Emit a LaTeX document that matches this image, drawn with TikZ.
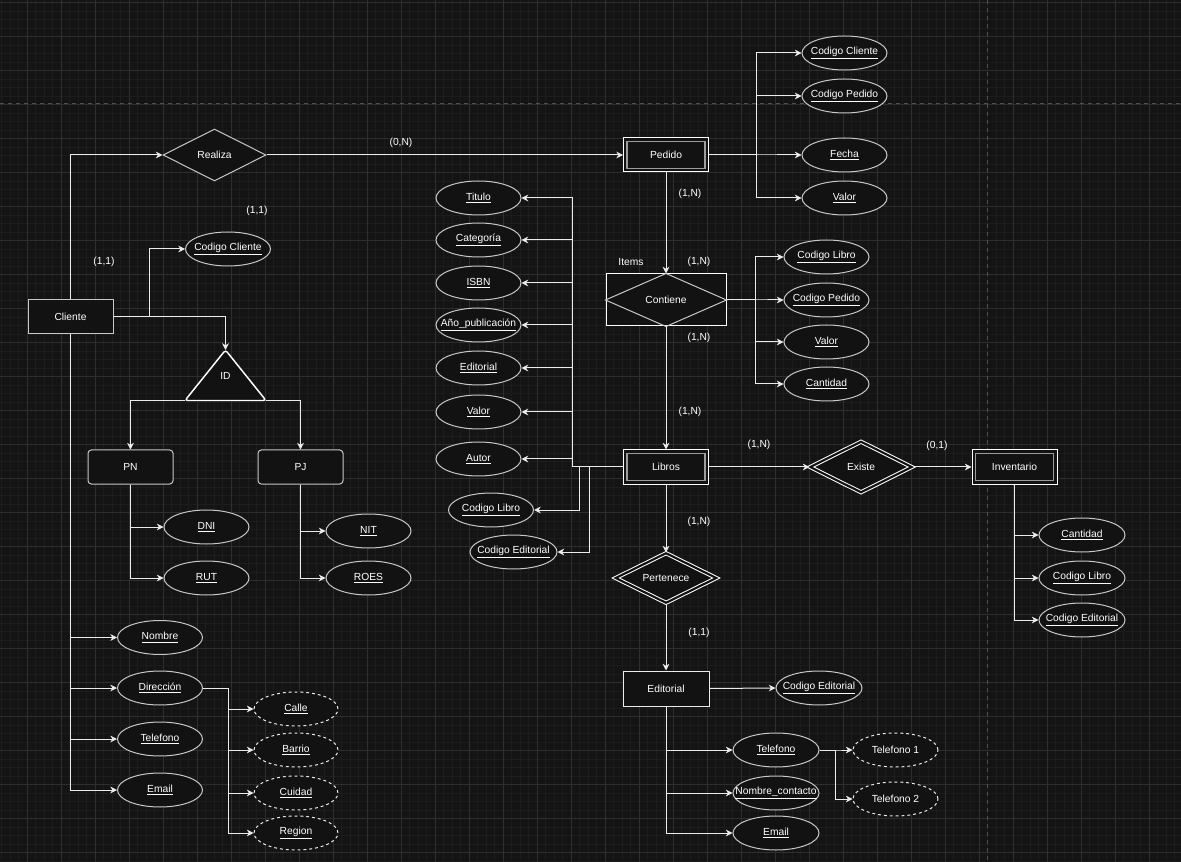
\documentclass[tikz,border=0pt]{standalone}
\usepackage{fontspec}
\setmainfont{Liberation Sans}
\usetikzlibrary{shapes.geometric,arrows.meta}
\definecolor{bgc}{HTML}{141414}
\definecolor{minorc}{HTML}{1C1C1C}
\definecolor{majorc}{HTML}{2E2E2E}
\definecolor{pagec}{HTML}{505050}
\definecolor{linec}{HTML}{EBEBEB}
\definecolor{bordc}{HTML}{C8C8C8}
\definecolor{innerc}{HTML}{9C9C9C}
\definecolor{fillc}{HTML}{121212}
\newcommand{\ulbl}[1]{\makebox[0pt]{\underline{#1}}}
\newcommand{\plbl}[1]{\makebox[0pt]{#1}}
\begin{document}
\begin{tikzpicture}[x=0.75pt,y=-0.75pt,
  font=\fontsize{7.7pt}{9pt}\selectfont,
  every node/.style={text=white},
  ent/.style={rectangle, draw=bordc, fill=fillc, line width=0.75pt, minimum width=85*0.75pt, minimum height=34*0.75pt, inner sep=0pt},
  went/.style={ent, draw=white},
  rent/.style={ent, rounded corners=2.5pt},
  attr/.style={ellipse, draw=bordc, fill=fillc, line width=0.75pt, minimum width=85*0.75pt, minimum height=34*0.75pt, inner sep=0pt},
  mattr/.style={attr, draw=linec, dash pattern=on 2.2pt off 2.2pt},
  rel/.style={diamond, draw=bordc, fill=fillc, line width=0.75pt, minimum width=103*0.75pt, minimum height=52*0.75pt, inner sep=0pt, aspect=2},
  dblrel/.style={rel, draw=white, double=fillc, double distance=1.6pt},
  lbl/.style={inner sep=0pt},
  conn/.style={draw=linec, line width=0.75pt, -{Stealth[length=5pt,width=5pt,inset=1.5pt]}}
]
\useasboundingbox (0,0) rectangle (1181,862);
% background grid
\fill[bgc] (0,0) rectangle (1181,862);
\foreach \i in {0,...,138} \draw[minorc, line width=0.75pt] ({1.5+8.5*\i},0) -- ++(0,862);
\foreach \i in {0,...,101} \draw[minorc, line width=0.75pt] (0,{2.7+8.5*\i}) -- ++(1181,0);
\foreach \i in {0,...,33} \draw[majorc, line width=0.75pt] ({27+34*\i},0) -- ++(0,862);
\foreach \i in {0,...,25} \draw[majorc, line width=0.75pt] (0,{2.7+34*\i}) -- ++(1181,0);
\draw[pagec, line width=0.75pt, dash pattern=on 3pt off 3pt] (0,104) -- (1181,104);
\draw[pagec, line width=0.75pt, dash pattern=on 3pt off 3pt] (987,0) -- (987,862);

% ---- Cliente side
\node[ent] (cliente) at (70.5,316.5) {Cliente};
\node[rel] (realiza) at (214.5,155) {Realiza};
\node[attr] (ccli) at (228,249) {\ulbl{Codigo Cliente}};
\coordinate (idtop) at (225.5,350);
\coordinate (idbl) at (185,400.5);
\coordinate (idbr) at (266,400.5);
\filldraw[fill=fillc, draw=white, line width=1.1pt, rounded corners=2pt] (idtop) -- (idbr) -- (idbl) -- cycle;
\node (id) at (225.5,376) {ID};
\node[rent] (pn) at (130.5,467) {PN};
\node[rent] (pj) at (300.5,467) {PJ};
\node[attr] (dni) at (206.5,527) {\ulbl{DNI}};
\node[attr] (rut) at (206.5,578) {\ulbl{RUT}};
\node[attr] (nit) at (368.5,531) {\ulbl{NIT}};
\node[attr] (roes) at (368.5,578) {\ulbl{ROES}};
\node[attr] (nombre) at (160,637.5) {\ulbl{Nombre}};
\node[attr] (direccion) at (160,688) {\ulbl{Dirección}};
\node[attr] (telefono) at (160,739) {\ulbl{Telefono}};
\node[attr] (email) at (160,790) {\ulbl{Email}};
\node[mattr, minimum width=84*0.75pt] (calle) at (296,709) {\ulbl{Calle}};
\node[mattr, minimum width=84*0.75pt] (barrio) at (296,750) {\ulbl{Barrio}};
\node[mattr, minimum width=84*0.75pt] (cuidad) at (296,793) {\ulbl{Cuidad}};
\node[mattr, minimum width=84*0.75pt] (region) at (296,833) {\ulbl{Region}};

% ---- Pedido
\node[went] (pedido) at (666,155) {Pedido};
\node[attr] (pcc) at (844.5,53) {\ulbl{Codigo Cliente}};
\node[attr] (pcp) at (844.5,96) {\ulbl{Codigo Pedido}};
\node[attr] (pfe) at (844.5,155) {\ulbl{Fecha}};
\node[attr] (pva) at (844.5,198) {\ulbl{Valor}};

% ---- Contiene
\node[ent, draw=white, minimum width=120*0.75pt, minimum height=52*0.75pt] (contiene) at (666,300) {Contiene};
\draw[bordc, line width=0.75pt] (contiene.north) -- (contiene.east) -- (contiene.south) -- (contiene.west) -- cycle;
\node[attr] (ccl) at (826.5,257) {\ulbl{Codigo Libro}};
\node[attr] (ccp) at (826.5,300) {\ulbl{Codigo Pedido}};
\node[attr] (cva) at (826.5,342) {\ulbl{Valor}};
\node[attr] (cca) at (826.5,384) {\ulbl{Cantidad}};

% ---- Libros
\node[went] (libros) at (666,467) {Libros};
\node[attr] (ltit) at (478.5,198) {\ulbl{Titulo}};
\node[attr] (lcat) at (478.5,240) {\ulbl{Categoría}};
\node[attr] (lisb) at (478.5,283) {\ulbl{ISBN}};
\node[attr] (lano) at (478.5,325) {\ulbl{Año\_publicación}};
\node[attr] (ledi) at (478.5,368) {\ulbl{Editorial}};
\node[attr] (lval) at (478.5,412) {\ulbl{Valor}};
\node[attr] (laut) at (478.5,459) {\ulbl{Autor}};
\node[attr] (lcl) at (491,510) {\ulbl{Codigo Libro}};
\node[attr, minimum width=87*0.75pt] (lce) at (513.5,552) {\ulbl{Codigo Editorial}};

% ---- Pertenece / Editorial
\node[dblrel, minimum width=101*0.75pt, minimum height=50*0.75pt] (pertenece) at (666,578) {Pertenece};
\node[ent, draw=linec, minimum width=86*0.75pt, minimum height=35*0.75pt] (editorial) at (666,688.5) {Editorial};
\node[attr, minimum width=86*0.75pt] (ece) at (819,688) {\ulbl{Codigo Editorial}};
\node[attr, minimum width=86*0.75pt] (etel) at (776,750) {\ulbl{Telefono}};
\node[attr, minimum width=86*0.75pt] (enom) at (776,793) {\ulbl{Nombre\_contacto}};
\node[attr, minimum width=86*0.75pt] (eema) at (776,833) {\ulbl{Email}};
\node[mattr] (tel1) at (895.5,750) {\plbl{Telefono 1}};
\node[mattr] (tel2) at (895.5,799) {\plbl{Telefono 2}};

% ---- Existe / Inventario
\node[dblrel, minimum width=102*0.75pt, minimum height=51*0.75pt] (existe) at (861,467) {Existe};
\node[went] (inventario) at (1014.5,467) {Inventario};
\node[attr, minimum width=86*0.75pt] (ica) at (1082,535) {\ulbl{Cantidad}};
\node[attr, minimum width=86*0.75pt] (icl) at (1082,578) {\ulbl{Codigo Libro}};
\node[attr, minimum width=86*0.75pt] (ice) at (1082,620) {\ulbl{Codigo Editorial}};

% inner borders of weak entities
\foreach \n in {pedido,libros,inventario}
  \draw[innerc, line width=1.1pt] ([shift={(4,4)}]\n.north west) rectangle ([shift={(-4,-4)}]\n.south east);

% ---- connectors
\draw[conn] (cliente.north) |- (realiza.west);
\draw[conn] (realiza.east) -- (pedido.west);
\draw[conn] (cliente.east) -- ++(36,0) |- (ccli.west);
\draw[conn] (cliente.east) -| (idtop);
\draw[conn] (idbl) -| (pn.north);
\draw[conn] (idbr) -| (pj.north);
\draw[conn] (pn.south) |- (dni.west);
\draw[conn] (pn.south) |- (rut.west);
\draw[conn] (pj.south) |- (nit.west);
\draw[conn] (pj.south) |- (roes.west);
\foreach \n in {nombre,direccion,telefono,email}
  \draw[conn] (cliente.south) |- (\n.west);
\foreach \n in {calle,barrio,cuidad,region}
  \draw[conn] (direccion.east) -- ++(25,0) |- (\n.west);
\foreach \n in {pcc,pcp,pfe,pva}
  \draw[conn] (pedido.east) -- ++(47,0) |- (\n.west);
\draw[conn] (pedido.south) -- (contiene.north);
\foreach \n in {ccl,ccp,cva,cca}
  \draw[conn] (contiene.east) -- ++(29,0) |- (\n.west);
\draw[conn] (contiene.south) -- (libros.north);
\foreach \n in {ltit,lcat,lisb,lano,ledi,lval,laut}
  \draw[conn] (libros.west) -- ++(-51,0) |- (\n.east);
\draw[conn] (libros.west) -- ++(-44,0) |- (lcl.east);
\draw[conn] (libros.west) -- ++(-34,0) |- (lce.east);
\draw[conn] (libros.south) -- (pertenece.north);
\draw[conn] (pertenece.south) -- (editorial.north);
\draw[conn] (editorial.east) -- (ece.west);
\foreach \n in {etel,enom,eema}
  \draw[conn] (editorial.south) |- (\n.west);
\foreach \n in {tel1,tel2}
  \draw[conn] (etel.east) -- ++(16,0) |- (\n.west);
\draw[conn] (libros.east) -- (existe.west);
\draw[conn] (existe.east) -- (inventario.west);
\foreach \n in {ica,icl,ice}
  \draw[conn] (inventario.south) |- (\n.west);

% ---- cardinality labels
\node[lbl] (c1) at (401,143) {(0,N)};
\node[lbl] (c2) at (257,211) {(1,1)};
\node[lbl] (c3) at (104,262) {(1,1)};
\node[lbl] (c4) at (690,194) {(1,N)};
\node[lbl] (c5) at (631,262) {Items};
\node[lbl] (c6) at (699,262) {(1,N)};
\node[lbl] (c7) at (699,338) {(1,N)};
\node[lbl] (c8) at (690,412) {(1,N)};
\node[lbl] (c9) at (699,522) {(1,N)};
\node[lbl] (c10) at (699,633) {(1,1)};
\node[lbl] (c11) at (759,445) {(1,N)};
\node[lbl] (c12) at (937,446) {(0,1)};
\end{tikzpicture}
\end{document}
